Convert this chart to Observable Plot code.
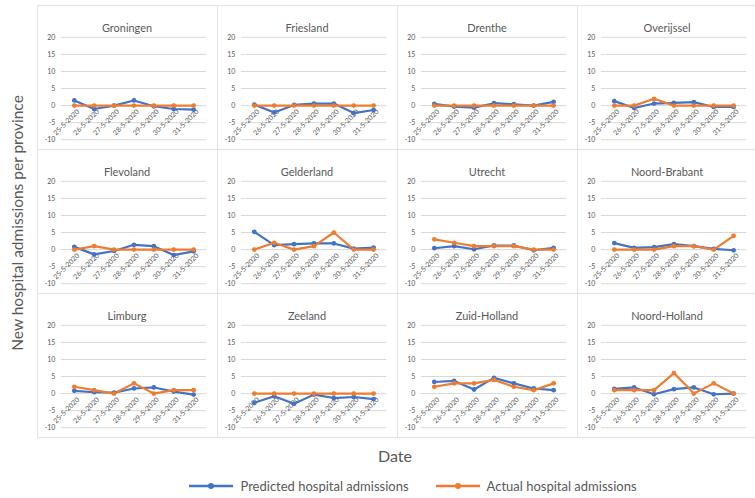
<!DOCTYPE html>
<html><head><meta charset="utf-8">
<script src="https://cdn.jsdelivr.net/npm/d3@7"></script>
<script src="https://cdn.jsdelivr.net/npm/@observablehq/plot@0.6"></script>
<style>
body{margin:0;background:#fff;font-family:Lato,"Noto Sans",sans-serif;}
#wrap{position:relative;width:755px;height:498px;overflow:hidden;background:#fff;}
.panel{position:absolute;box-sizing:border-box;width:181px;height:145px;border:1px solid #e3e3e3;}
.panel svg{display:block;position:absolute;left:-1px;top:-1px;}
#ylab{position:absolute;left:17px;top:223px;transform:translate(-50%,-50%) rotate(-90deg);white-space:nowrap;font-size:15.5px;color:#595959;}
#xlab{position:absolute;left:395px;top:455px;transform:translate(-50%,-50%);font-size:16px;color:#595959;}
#legend{position:absolute;left:0;width:825px;top:478px;display:flex;justify-content:center;gap:26px;font-size:13px;color:#595959;}
#legend span{display:flex;align-items:center;gap:6px;}
</style></head><body><div id="wrap"></div>
<script>
const dates = ["25-5-2020","26-5-2020","27-5-2020","28-5-2020","29-5-2020","30-5-2020","31-5-2020"];
const provinces = ["Groningen","Friesland","Drenthe","Overijssel","Flevoland","Gelderland","Utrecht","Noord-Brabant","Limburg","Zeeland","Zuid-Holland","Noord-Holland"];
const predicted = [
  [1.5,-1,0,1.5,-0.2,-1,-1.2],
  [0.3,-2,0.2,0.6,0.6,-2.2,-1.3],
  [0.5,-0.3,-0.6,0.7,0.4,0,1.1],
  [1.3,-0.7,0.6,0.8,1.0,-0.4,-0.4],
  [0.8,-1.4,-0.4,1.4,1.0,-1.6,-0.5],
  [5.2,1.3,1.6,1.8,1.8,0.3,0.6],
  [0.4,1,0.1,1.2,1.2,-0.2,0.5],
  [1.9,0.5,0.7,1.6,1,0.2,-0.2],
  [0.8,0.4,0.3,1.5,1.8,0.6,-0.3],
  [-2.7,-0.8,-3,-0.3,-1.3,-1,-1.6],
  [3.4,3.7,1.2,4.6,3.0,1.5,1.0],
  [1.4,1.8,-0.2,1.3,1.8,-0.2,0]
];
const actual = [
  [0,0,0,0,0,0,0],
  [0,0,0,0,0,0,0],
  [0,0,0,0,0,0,0],
  [0,0,2,0,0,0,0],
  [0,1,0,0,0,0,0],
  [0,2,0,1,5,0,0],
  [3,2,1,1,1,0,0],
  [0,0,0,1,1,0,4],
  [2,1,0,3,0,1,1],
  [0,0,0,0,0,0,0],
  [2,3,3,4,2,1,3],
  [1,1,1,6,0,3,0]
];
const seriesNames = ["Predicted hospital admissions","Actual hospital admissions"];
const seriesColors = ["#4472C4","#ED7D31"];
const yTicks = [-10,-5,0,5,10,15,20];

const wrap = document.getElementById("wrap");
const grey = "#595959";

provinces.forEach((name, i) => {
  const col = i % 4, row = Math.floor(i / 4);
  const rows = [];
  dates.forEach((d, j) => rows.push({date: d, value: predicted[i][j], series: seriesNames[0]}));
  dates.forEach((d, j) => rows.push({date: d, value: actual[i][j], series: seriesNames[1]}));
  const chart = Plot.plot({
    width: 180, height: 144,
    marginLeft: 24, marginRight: 10, marginTop: 32, marginBottom: 9,
    style: {fontFamily: "Lato, 'Noto Sans', sans-serif", background: "transparent", overflow: "visible"},
    x: {type: "point", domain: dates, padding: 0.5, axis: null},
    y: {domain: [-10, 20], axis: null},
    color: {domain: seriesNames, range: seriesColors},
    marks: [
      Plot.ruleY(yTicks, {stroke: "#d9d9d9", strokeWidth: 1}),
      Plot.text(yTicks, {frameAnchor: "left", y: d => d, text: d => String(d), textAnchor: "end", dx: -6, fontSize: 7, fill: grey}),
      Plot.text(dates, {x: d => d, y: () => 0, text: d => d, rotate: -45, textAnchor: "end", lineAnchor: "top", dx: 2, dy: 3, fontSize: 7, fill: grey}),
      Plot.line(rows, {x: "date", y: "value", stroke: "series", z: "series", strokeWidth: 2.2}),
      Plot.dot(rows, {x: "date", y: "value", fill: "series", r: 2.4}),
      Plot.text([name], {frameAnchor: "top", dx: -7, dy: -13, text: d => d, fontSize: 11, fill: grey})
    ]
  });
  const div = document.createElement("div");
  div.className = "panel";
  div.style.left = (37 + 180 * col) + "px";
  div.style.top = (5 + 144 * row) + "px";
  div.appendChild(chart);
  wrap.appendChild(div);
});

const yl = document.createElement("div"); yl.id = "ylab"; yl.textContent = "New hospital admissions per province"; wrap.appendChild(yl);
const xl = document.createElement("div"); xl.id = "xlab"; xl.textContent = "Date"; wrap.appendChild(xl);
const lg = document.createElement("div"); lg.id = "legend";
seriesNames.forEach((s, k) => {
  const sp = document.createElement("span");
  sp.innerHTML = `<svg width="46" height="10"><line x1="1" x2="45" y1="5" y2="5" stroke="${seriesColors[k]}" stroke-width="2.5"/><circle cx="23" cy="5" r="3" fill="${seriesColors[k]}"/></svg>`;
  const t = document.createElement("span"); t.textContent = s;
  sp.appendChild(t);
  lg.appendChild(sp);
});
wrap.appendChild(lg);
</script></body></html>
